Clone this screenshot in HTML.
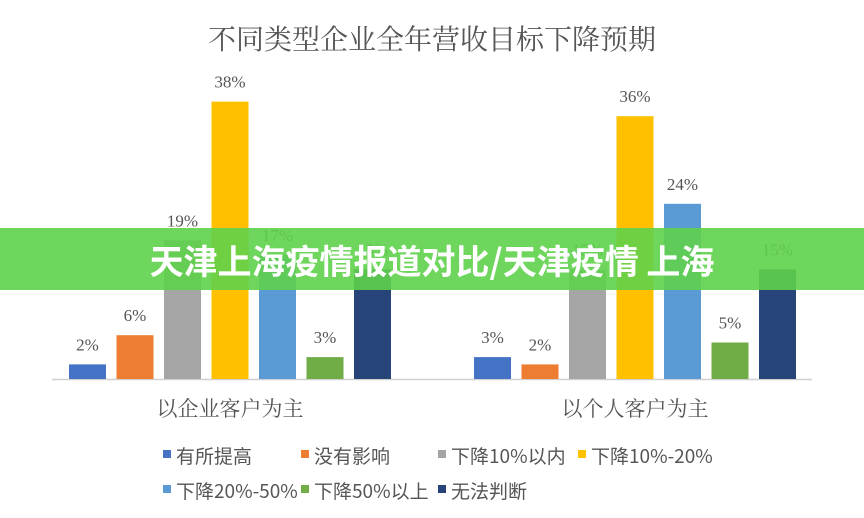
<!DOCTYPE html>
<html><head><meta charset="utf-8"><style>
html,body{margin:0;padding:0;background:#fff;width:864px;height:518px;overflow:hidden}
svg{display:block;font-family:"Liberation Serif","Noto Serif CJK SC","Noto Sans CJK SC",serif}
</style></head><body>
<svg id="chart" width="864" height="518" viewBox="0 0 864 518">
<rect width="864" height="518" fill="#fff"/>
<text x="432" y="49" text-anchor="middle" font-size="28" fill="#555">不同类型企业全年营收目标下降预期</text>
<line x1="52" y1="379.5" x2="812" y2="379.5" stroke="#d0d0d0" stroke-width="1.5"/>
<g id="bars"></g>
<g id="legend"></g>
<rect x="0" y="228" width="864" height="62" fill="rgba(95,210,75,0.9)"/>
<text x="432" y="274" text-anchor="middle" font-size="34" font-weight="bold" fill="#fff" font-family="'Noto Sans CJK SC',sans-serif">天津上海疫情报道对比/天津疫情 上海</text>
</svg>
<script>
const categories=["以企业客户为主","以个人客户为主"];
const seriesNames=["有所提高","没有影响","下降10%以内","下降10%-20%","下降20%-50%","下降50%以上","无法判断"];
const seriesColors=["#4472c4","#ed7d31","#a5a5a5","#ffc000","#5b9bd5","#70ad47","#264478"];
const group1=[2,6,19,38,17,3,15];
const group2=[3,2,15,36,24,5,15];
const values=[group1,group2];
const NS="http://www.w3.org/2000/svg";
const base=379, ppu=7.3;
const y=v=>base-v*ppu;
const groupStart=[69,474], step=47.5, bw=37;
const bars=document.getElementById('bars');
function mk(tag,attrs,parent,text){const e=document.createElementNS(NS,tag);for(const k in attrs)e.setAttribute(k,attrs[k]);if(text!==undefined)e.textContent=text;parent.appendChild(e);return e;}
values.forEach((vals,g)=>{
  vals.forEach((v,i)=>{
    const x=groupStart[g]+i*step;
    const r=mk('rect',{x:x,y:y(v),width:bw,height:v*ppu,fill:seriesColors[i]},bars);
    
    
    const t=mk('text',{x:x+bw/2,y:y(v)-14,'text-anchor':'middle','font-size':'17',fill:'#555'},bars,v+'%');
    
    
  });
  const c=mk('text',{x:groupStart[g]+3*step+bw/2,y:416,'text-anchor':'middle','font-size':'21',fill:'#555'},bars,categories[g]);
  
  
});
const lg=document.getElementById('legend');
const lx=[163,301,438,578,163,301,438], ly=[455,455,455,455,490,490,490];
seriesNames.forEach((n,i)=>{
  const g=mk('g',{},lg);
  
  
  mk('rect',{x:lx[i],y:ly[i]-5,width:8,height:8,fill:seriesColors[i]},g);
  mk('text',{x:lx[i]+13,y:ly[i]+8,'font-size':'19',fill:'#555','font-family':"'Noto Sans CJK SC',sans-serif"},g,n);
});
</script>
</body></html>
